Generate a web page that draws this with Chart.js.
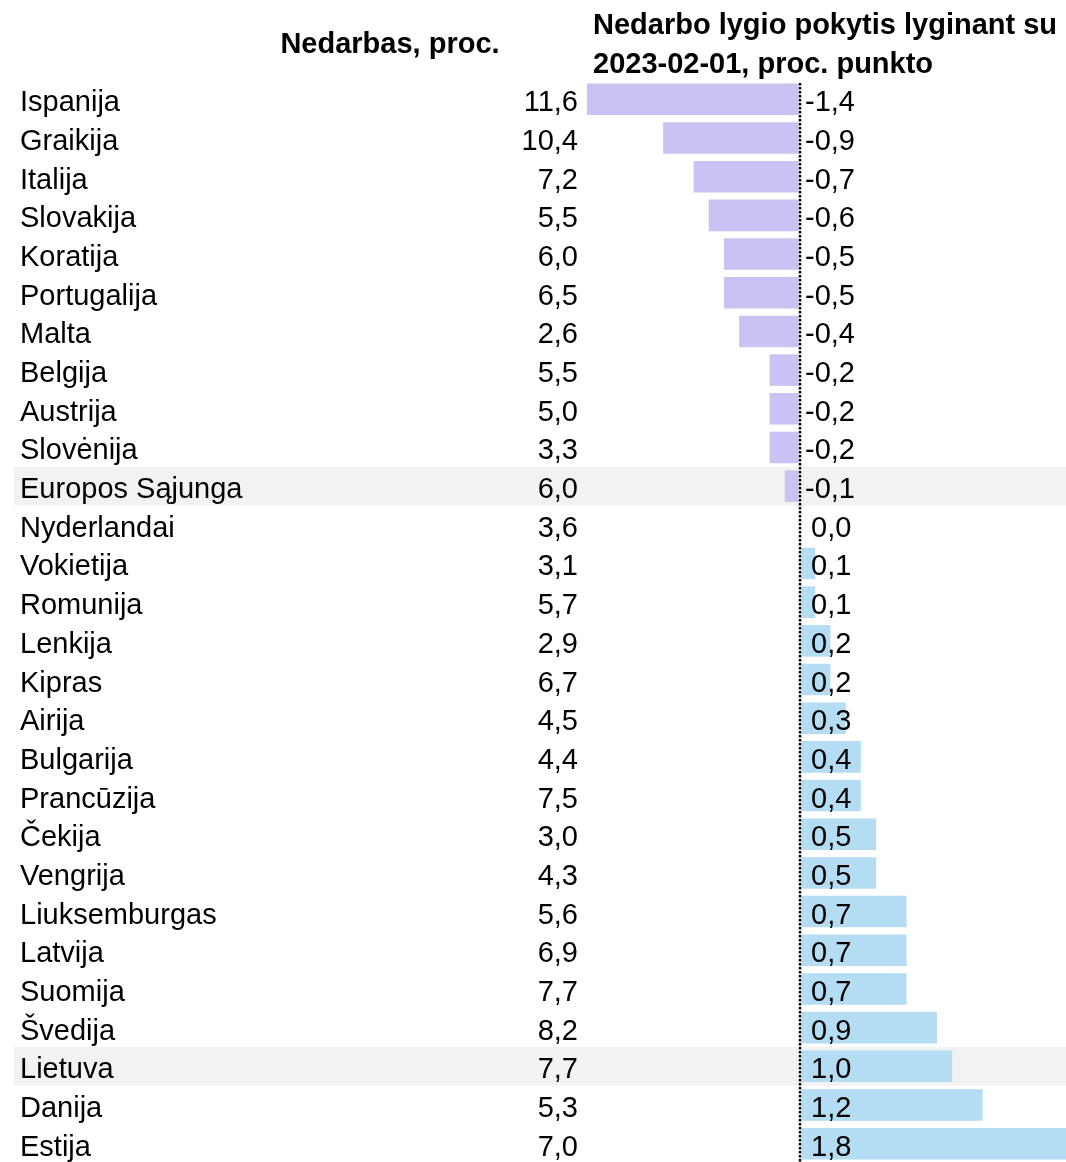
<!DOCTYPE html>
<html lang="lt">
<head>
<meta charset="utf-8">
<title>Nedarbas ES šalyse</title>
<script src="https://cdn.jsdelivr.net/npm/chart.js@4/dist/chart.umd.min.js"></script>
<style>
  html, body { margin: 0; padding: 0; background: #fff; overflow: hidden; }
  #wrap { width: 1066px; height: 1162px; overflow: hidden; }
  canvas { display: block; }
</style>
</head>
<body>
<div id="wrap"><canvas id="chart" width="1066" height="1164"></canvas></div>
<script>
const countries = [
  "Ispanija", "Graikija", "Italija", "Slovakija", "Koratija", "Portugalija", "Malta",
  "Belgija", "Austrija", "Slovėnija", "Europos Sąjunga", "Nyderlandai", "Vokietija",
  "Romunija", "Lenkija", "Kipras", "Airija", "Bulgarija", "Prancūzija", "Čekija",
  "Vengrija", "Liuksemburgas", "Latvija", "Suomija", "Švedija", "Lietuva", "Danija", "Estija"
];
const unemployment = [
  11.6, 10.4, 7.2, 5.5, 6.0, 6.5, 2.6, 5.5, 5.0, 3.3, 6.0, 3.6, 3.1, 5.7,
  2.9, 6.7, 4.5, 4.4, 7.5, 3.0, 4.3, 5.6, 6.9, 7.7, 8.2, 7.7, 5.3, 7.0
];
const change = [
  -1.4, -0.9, -0.7, -0.6, -0.5, -0.5, -0.4, -0.2, -0.2, -0.2, -0.1, 0.0, 0.1, 0.1,
  0.2, 0.2, 0.3, 0.4, 0.4, 0.5, 0.5, 0.7, 0.7, 0.7, 0.9, 1.0, 1.2, 1.8
];
const highlighted = ["Europos Sąjunga", "Lietuva"];
const headerLeft = "Nedarbas, proc.";
const headerRight = ["Nedarbo lygio pokytis lyginant su", "2023-02-01, proc. punkto"];

const font = "'Liberation Sans', Arial, sans-serif";
const fmt = (v) => v.toFixed(1).replace(".", ",");

// row shading, zero line, text columns
const tablePlugin = {
  id: "table",
  beforeDatasetsDraw(chart) {
    const { ctx, scales: { y } } = chart;
    const rowH = Math.abs(y.getPixelForValue(1) - y.getPixelForValue(0));
    ctx.save();
    ctx.fillStyle = "#f2f2f2";
    countries.forEach((c, i) => {
      if (!highlighted.includes(c)) return;
      const cy = y.getPixelForValue(i);
      ctx.fillRect(14, cy - rowH / 2, 1066 - 14, rowH);
    });
    ctx.restore();
  },
  afterDatasetsDraw(chart) {
    const { ctx, chartArea, scales: { x, y } } = chart;
    const zero = Math.round(x.getPixelForValue(0));
    ctx.save();

    // dotted zero line
    ctx.lineWidth = 3;
    ctx.strokeStyle = "#ffffff";
    ctx.beginPath();
    ctx.moveTo(zero, chartArea.top + 3);
    ctx.lineTo(zero, chartArea.bottom);
    ctx.stroke();
    ctx.lineWidth = 2.5;
    ctx.strokeStyle = "#000000";
    ctx.setLineDash([2.5, 1.5]);
    ctx.beginPath();
    ctx.moveTo(zero, chartArea.top + 3);
    ctx.lineTo(zero, chartArea.bottom);
    ctx.stroke();
    ctx.setLineDash([]);

    // columns
    ctx.fillStyle = "#000";
    ctx.font = `29px ${font}`;
    ctx.textBaseline = "alphabetic";
    countries.forEach((c, i) => {
      const cy = y.getPixelForValue(i) + 12;
      ctx.textAlign = "left";
      ctx.fillText(c, 20, cy);
      ctx.textAlign = "right";
      ctx.fillText(fmt(unemployment[i]), 578, cy);
      ctx.textAlign = "left";
      ctx.fillText(fmt(change[i]), change[i] < 0 ? zero + 5 : zero + 11, cy);
    });

    // headers
    ctx.font = `bold 29px ${font}`;
    ctx.textAlign = "center";
    ctx.fillText(headerLeft, 390, 53);
    ctx.textAlign = "left";
    ctx.fillText(headerRight[0], 593, 34);
    ctx.fillText(headerRight[1], 593, 73);
    ctx.restore();
  }
};

const chart = new Chart(document.getElementById("chart"), {
  type: "bar",
  data: {
    labels: countries,
    datasets: [{
      data: change,
      backgroundColor: change.map(v => v < 0 ? "#c9c3f3" : "#b4dcf3"),
      borderWidth: 0,
      categoryPercentage: 1,
      barPercentage: 0.815
    }]
  },
  options: {
    indexAxis: "y",
    responsive: false,
    animation: false,
    events: [],
    layout: { padding: { left: 587, right: 0, top: 80, bottom: 1 } },
    plugins: { legend: { display: false }, tooltip: { enabled: false } },
    scales: {
      x: { min: -1.4, max: 1.748, display: false },
      y: { display: false }
    }
  },
  plugins: [tablePlugin]
});
</script>
</body>
</html>
